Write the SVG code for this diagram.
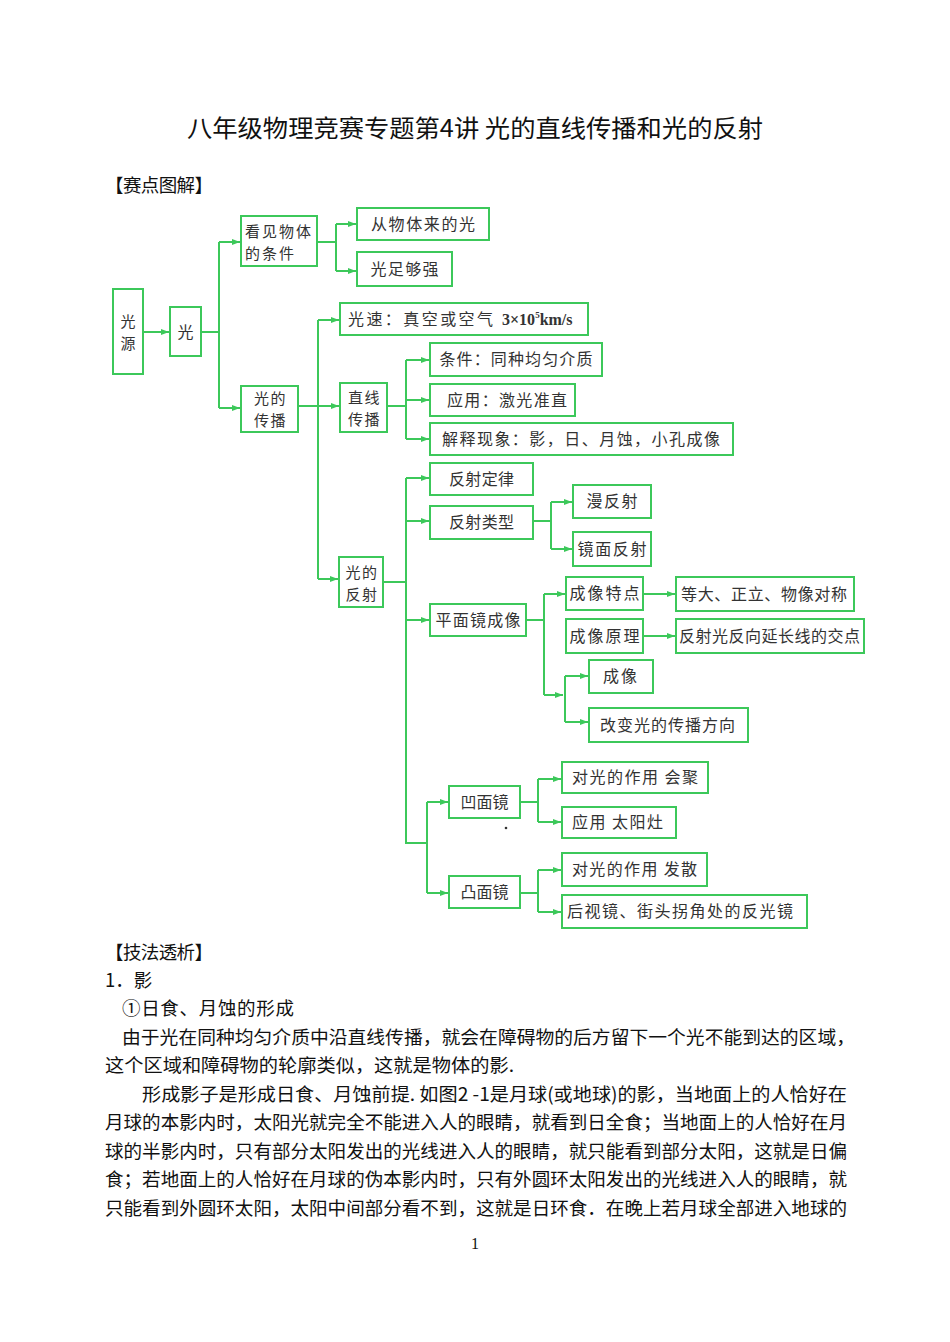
<svg xmlns="http://www.w3.org/2000/svg" width="950" height="1342" viewBox="0 0 950 1342">
<defs>
<style>
.b{fill:#fff;stroke:#3cc85a;stroke-width:2}
.c{fill:none;stroke:#3cc85a;stroke-width:2}
.t{font-family:"Noto Sans CJK SC",sans-serif;font-size:16px;fill:#333;text-anchor:middle}
.m{font-family:"Noto Sans CJK SC",sans-serif;font-size:15px;fill:#333;text-anchor:middle;letter-spacing:1.5px}
.p{font-family:"Noto Sans CJK SC",sans-serif;font-size:18.5px;fill:#111}
.a{marker-end:url(#ar)}
</style>
<marker id="ar" markerWidth="8" markerHeight="6" refX="8" refY="3" orient="auto" markerUnits="userSpaceOnUse"><path d="M0,0 L8,3 L0,6 z" fill="#3cc85a"/></marker>
</defs>
<rect width="950" height="1342" fill="#fff"/>
<text x="187" y="137" font-family="Noto Sans CJK SC,sans-serif" font-size="24" fill="#111" textLength="576" lengthAdjust="spacingAndGlyphs">八年级物理竞赛专题第4讲 光的直线传播和光的反射</text>
<text class="p" x="105" y="192" textLength="108">【赛点图解】</text>

<g id="connectors">
<path class="c a" d="M143,332 H169"/>
<path class="c" d="M201,332 H219 M219,242 V408"/>
<path class="c a" d="M219,242 H240"/>
<path class="c a" d="M219,408 H240"/>
<path class="c" d="M317,242 H336 M336,224 V271"/>
<path class="c a" d="M336,224 H356"/>
<path class="c a" d="M336,271 H356"/>
<path class="c a" d="M298,406 H339"/>
<path class="c" d="M318,320 V579"/>
<path class="c a" d="M318,320 H339"/>
<path class="c a" d="M318,579 H338"/>
<path class="c" d="M387,406 H406 M406,360 V439"/>
<path class="c a" d="M406,360 H429"/>
<path class="c a" d="M406,400 H429"/>
<path class="c a" d="M406,439 H429"/>
<path class="c" d="M383,582 H406 M406,478 V843 H427 M427,802 V893"/>
<path class="c a" d="M406,478 H429"/>
<path class="c a" d="M406,521 H429"/>
<path class="c a" d="M406,620 H429"/>
<path class="c" d="M533,521 H551 M551,502 V549"/>
<path class="c a" d="M551,502 H572"/>
<path class="c a" d="M551,549 H572"/>
<path class="c" d="M526,620 H544 M544,594 V695"/>
<path class="c a" d="M544,594 H565"/>
<path class="c a" d="M544,695 H563"/>
<path class="c" d="M565,676 V722"/>
<path class="c a" d="M565,676 H588"/>
<path class="c a" d="M565,722 H588"/>
<path class="c a" d="M643,594 H675"/>
<path class="c a" d="M643,636 H675"/>
<path class="c a" d="M427,802 H448"/>
<path class="c a" d="M427,893 H448"/>
<path class="c" d="M520,802 H538 M538,779 V822"/>
<path class="c a" d="M538,779 H561"/>
<path class="c a" d="M538,822 H561"/>
<path class="c" d="M520,893 H538 M538,870 V912"/>
<path class="c a" d="M538,870 H561"/>
<path class="c a" d="M538,912 H561"/>
</g>

<g id="n1"><rect class="b" x="113" y="289" width="30" height="85"/><text class="m" style="letter-spacing:0"><tspan x="128" y="326.5">光</tspan><tspan x="128" y="348.5">源</tspan></text></g>
<g id="n2"><rect class="b" x="170" y="307" width="31" height="49"/><text class="t" x="185.5" y="338" font-size="17">光</text></g>
<g id="n3"><rect class="b" x="241" y="216" width="76" height="50"/><text class="m" style="text-anchor:start;letter-spacing:2px"><tspan x="245" y="236.5">看见物体</tspan><tspan x="245" y="258.5">的条件</tspan></text></g>
<g id="n4"><rect class="b" x="357" y="208" width="132" height="32"/><text class="t" x="423" y="230" textLength="104">从物体来的光</text></g>
<g id="n5"><rect class="b" x="357" y="252" width="95" height="34"/><text class="t" x="404.5" y="275" textLength="68">光足够强</text></g>
<g id="n6"><rect class="b" x="241" y="386" width="57" height="46"/><text class="m"><tspan x="270.5" y="403.5">光的</tspan><tspan x="270.5" y="425.5">传播</tspan></text></g>
<g id="n7"><rect class="b" x="340" y="303" width="248" height="32"/><text class="t" x="348" y="325" style="text-anchor:start" textLength="145">光速：真空或空气</text><text x="502" y="325" font-family="Liberation Serif,serif" font-size="16" font-weight="bold" fill="#333">3×10<tspan font-size="9" dy="-7">5</tspan><tspan dy="7">km/s</tspan></text></g>
<g id="n8"><rect class="b" x="340" y="383" width="47" height="49"/><text class="m"><tspan x="364.5" y="402.5">直线</tspan><tspan x="364.5" y="424.5">传播</tspan></text></g>
<g id="n9"><rect class="b" x="430" y="343" width="172" height="33"/><text class="t" x="516" y="365" textLength="153">条件：同种均匀介质</text></g>
<g id="n10"><rect class="b" x="430" y="384" width="145" height="32"/><text class="t" x="507" y="406" textLength="120">应用：激光准直</text></g>
<g id="n11"><rect class="b" x="430" y="423" width="303" height="32"/><text class="t" x="581" y="445" textLength="278">解释现象：影，日、月蚀，小孔成像</text></g>
<g id="n12"><rect class="b" x="339" y="557" width="44" height="50"/><text class="m"><tspan x="362" y="577.5">光的</tspan><tspan x="362" y="599.5">反射</tspan></text></g>
<g id="n13"><rect class="b" x="430" y="463" width="103" height="32"/><text class="t" x="481.5" y="485" textLength="65">反射定律</text></g>
<g id="n14"><rect class="b" x="430" y="506" width="103" height="33"/><text class="t" x="481.5" y="528" textLength="65">反射类型</text></g>
<g id="n15"><rect class="b" x="573" y="485" width="78" height="33"/><text class="t" x="612" y="507" textLength="51">漫反射</text></g>
<g id="n16"><rect class="b" x="573" y="532" width="78" height="34"/><text class="t" x="612" y="555" textLength="69">镜面反射</text></g>
<g id="n17"><rect class="b" x="430" y="604" width="96" height="32"/><text class="t" x="478" y="626" textLength="85">平面镜成像</text></g>
<g id="n18"><rect class="b" x="566" y="577" width="77" height="33"/><text class="t" x="604.5" y="599" textLength="70">成像特点</text></g>
<g id="n19"><rect class="b" x="566" y="619" width="77" height="34"/><text class="t" x="604.5" y="642" textLength="70">成像原理</text></g>
<g id="n20"><rect class="b" x="676" y="577" width="178" height="34"/><text class="t" x="764" y="600" textLength="166">等大、正立、物像对称</text></g>
<g id="n21"><rect class="b" x="676" y="619" width="188" height="34"/><text class="t" x="769.5" y="642" textLength="181">反射光反向延长线的交点</text></g>
<g id="n22"><rect class="b" x="589" y="660" width="64" height="33"/><text class="t" x="620" y="682" textLength="34">成像</text></g>
<g id="n23"><rect class="b" x="589" y="708" width="159" height="34"/><text class="t" x="667.5" y="731" textLength="135">改变光的传播方向</text></g>
<g id="n24"><rect class="b" x="449" y="786" width="71" height="32"/><text class="t" x="484.5" y="808" textLength="48">凹面镜</text></g>
<g id="n25"><rect class="b" x="562" y="762" width="146" height="31"/><text class="t" x="635" y="783" textLength="126">对光的作用 会聚</text></g>
<g id="n26"><rect class="b" x="562" y="807" width="114" height="31"/><text class="t" x="617.5" y="828" textLength="91">应用 太阳灶</text></g>
<g id="n27"><rect class="b" x="449" y="876" width="71" height="32"/><text class="t" x="484.5" y="898" textLength="48">凸面镜</text></g>
<g id="n28"><rect class="b" x="562" y="853" width="145" height="33"/><text class="t" x="634.5" y="875" textLength="125">对光的作用 发散</text></g>
<g id="n29"><rect class="b" x="562" y="895" width="245" height="33"/><text class="t" x="680" y="917" textLength="226">后视镜、街头拐角处的反光镜</text></g>
<circle cx="506" cy="828" r="1.3" fill="#333"/>

<text class="p" x="105" y="959" textLength="108">【技法透析】</text>
<text class="p" x="105" y="987">1．影</text>
<text class="p" x="122" y="1015" textLength="172">①日食、月蚀的形成</text>
<text class="p" x="122" y="1044" textLength="733" lengthAdjust="spacingAndGlyphs">由于光在同种均匀介质中沿直线传播，就会在障碍物的后方留下一个光不能到达的区域，</text>
<text class="p" x="105" y="1072" textLength="409" lengthAdjust="spacingAndGlyphs">这个区域和障碍物的轮廓类似，这就是物体的影.</text>
<text class="p" x="142" y="1101" textLength="705" lengthAdjust="spacingAndGlyphs">形成影子是形成日食、月蚀前提. 如图2 -1是月球(或地球)的影，当地面上的人恰好在</text>
<text class="p" x="105" y="1129" textLength="742" lengthAdjust="spacingAndGlyphs">月球的本影内时，太阳光就完全不能进入人的眼睛，就看到日全食；当地面上的人恰好在月</text>
<text class="p" x="105" y="1158" textLength="742" lengthAdjust="spacingAndGlyphs">球的半影内时，只有部分太阳发出的光线进入人的眼睛，就只能看到部分太阳，这就是日偏</text>
<text class="p" x="105" y="1186" textLength="742" lengthAdjust="spacingAndGlyphs">食；若地面上的人恰好在月球的伪本影内时，只有外圆环太阳发出的光线进入人的眼睛，就</text>
<text class="p" x="105" y="1215" textLength="742" lengthAdjust="spacingAndGlyphs">只能看到外圆环太阳，太阳中间部分看不到，这就是日环食．在晚上若月球全部进入地球的</text>
<text x="475" y="1249" font-family="Liberation Serif,serif" font-size="16" fill="#111" text-anchor="middle">1</text>
</svg>
